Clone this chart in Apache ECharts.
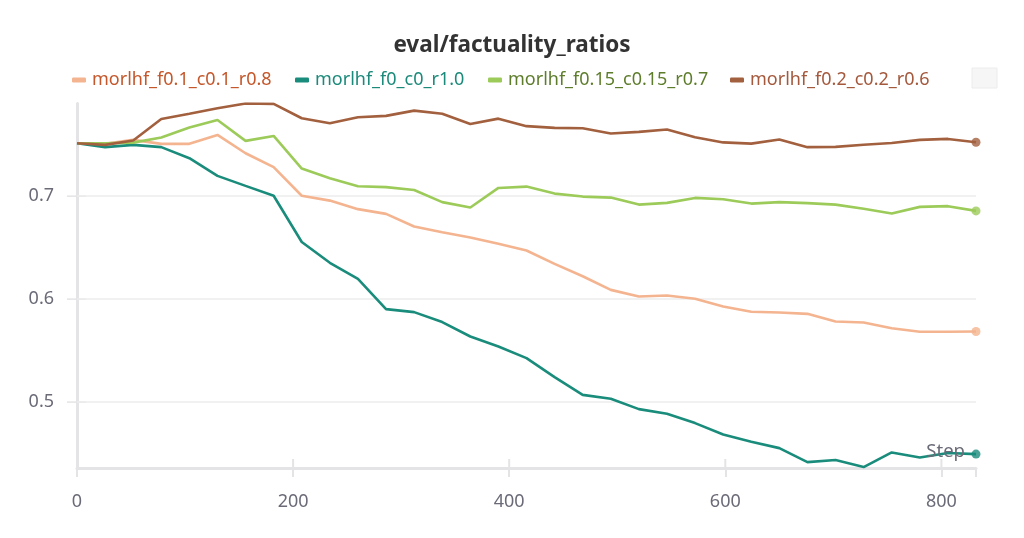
<!DOCTYPE html>
<html><head><meta charset="utf-8">
<script src="https://cdn.jsdelivr.net/npm/echarts@6/dist/echarts.min.js"></script>
<style>html,body{margin:0;padding:0;background:#fff}#c{width:1024px;height:538px}</style>
</head><body><div id="c"></div>
<script>
const steps = [0,26,52,78,104,130,156,182,208,234,260,286,312,338,364,390,416,442,468,494,520,546,572,598,624,650,676,702,728,754,780,806,832];
const seriesNames = ['morlhf_f0.1_c0.1_r0.8','morlhf_f0_c0_r1.0','morlhf_f0.15_c0.15_r0.7','morlhf_f0.2_c0.2_r0.6'];
const f01 = [0.7514,0.7508,0.7547,0.7508,0.7508,0.7595,0.7417,0.7282,0.7004,0.6957,0.6874,0.6828,0.6705,0.6650,0.6598,0.6537,0.6472,0.6343,0.6222,0.6090,0.6025,0.6035,0.6003,0.5928,0.5877,0.5870,0.5857,0.5783,0.5773,0.5718,0.5683,0.5683,0.5686];
const f0 = [0.7514,0.7476,0.7498,0.7476,0.7369,0.7197,0.7100,0.7004,0.6555,0.6353,0.6196,0.5903,0.5874,0.5777,0.5637,0.5540,0.5427,0.5243,0.5070,0.5032,0.4932,0.4887,0.4796,0.4686,0.4615,0.4553,0.4417,0.4437,0.4369,0.4511,0.4462,0.4505,0.4495];
const f015 = [0.7514,0.7514,0.7520,0.7570,0.7666,0.7740,0.7537,0.7585,0.7268,0.7175,0.7097,0.7088,0.7060,0.6942,0.6890,0.7080,0.7093,0.7025,0.6996,0.6986,0.6918,0.6935,0.6983,0.6970,0.6928,0.6942,0.6932,0.6918,0.6877,0.6831,0.6896,0.6903,0.6857];
const f02 = [0.7514,0.7498,0.7540,0.7750,0.7800,0.7854,0.7900,0.7896,0.7757,0.7709,0.7767,0.7780,0.7831,0.7800,0.7700,0.7753,0.7680,0.7663,0.7660,0.7608,0.7624,0.7647,0.7573,0.7522,0.7510,0.7550,0.7476,0.7479,0.7500,0.7517,0.7547,0.7556,0.7524];
const xTicks = [0,200,400,600,800];
const yTicks = [0.5,0.6,0.7];

const lineColors = ['#f4b48f','#1a8c7c','#9ccb5a','#a3603f'];
const textColors = ['#c4572b','#1b8a7a','#5e7d2c','#a4583c'];
const legendLeft = [67,290,483,725];
const allVals = [f01,f0,f015,f02];
const FONT = 'Noto Sans';
const GREY = '#6b6b78';

const chart = echarts.init(document.getElementById('c'), null, {renderer:'canvas'});
const series = [{
  type:'line', name:'gridlines', data:[], silent:true, z:1,
  markLine:{symbol:'none', silent:true, z:1, label:{show:false}, animation:false,
    lineStyle:{color:'#ececec',width:1.5,type:'solid'},
    data: yTicks.map(v=>({yAxis:v}))}
}];
allVals.forEach((vals,i)=>{
  series.push({
    name: seriesNames[i], type:'line', data: steps.map((s,k)=>[s,vals[k]]),
    showSymbol:false, lineStyle:{width:2.6,color:lineColors[i]}, itemStyle:{color:lineColors[i]},
    silent:true, z: 2+i
  });
});
allVals.forEach((vals,i)=>{
  series.push({
    name: seriesNames[i]+'_end', type:'scatter', data:[[steps[steps.length-1], vals[vals.length-1]]],
    symbol:'circle', symbolSize:9, itemStyle:{color:lineColors[i]}, silent:true, z:10
  });
});

chart.setOption({
  animation:false,
  title:{text:'eval/factuality_ratios', left:'center', top:29,
    textStyle:{fontFamily:FONT,fontSize:22.5,fontWeight:'bold',color:'#333'}},
  legend: seriesNames.map((n,i)=>({
    data:[{name:n, textStyle:{color:textColors[i]}}],
    top:66, left:legendLeft[i], itemWidth:14, itemHeight:5, icon:'roundRect',
    selectedMode:false,
    textStyle:{fontFamily:FONT,fontSize:18,padding:[0,0,0,1]}
  })),
  grid:{left:77,right:48,top:103.5,bottom:70,containLabel:false},
  xAxis:{type:'value', min:0, max:832, interval:200,
    axisLine:{show:true,lineStyle:{color:'#e4e4e6',width:3}},
    axisTick:{show:true,inside:false,length:9,lineStyle:{color:'#e4e4e6',width:2}},
    axisLabel:{fontFamily:FONT,fontSize:18,color:GREY,margin:25,
      formatter:v=> xTicks.includes(v)? String(v):''},
    splitLine:{show:false}},
  yAxis:{type:'value', min:0.436, max:0.79,
    axisLine:{show:true,lineStyle:{color:'#e4e4e6',width:3}},
    axisTick:{show:false},
    axisLabel:{show:false},
    splitLine:{show:false}},
  series: series
});

const g = [];
yTicks.forEach(v=>{
  const p = chart.convertToPixel({gridIndex:0},[0,v]);
  g.push({type:'text', x:54, y:p[1], style:{text:String(v), fontFamily:FONT, fontSize:18, fill:GREY, align:'right', verticalAlign:'middle'}, silent:true});
  g.push({type:'line', shape:{x1:67,y1:p[1],x2:86,y2:p[1]}, style:{stroke:'#e4e4e6',lineWidth:1.5}, silent:true});
});
xTicks.forEach(v=>{
  const p = chart.convertToPixel({gridIndex:0},[v,0.436]);
  g.push({type:'line', shape:{x1:p[0],y1:p[1]-9,x2:p[0],y2:p[1]}, style:{stroke:'#e4e4e6',lineWidth:2}, silent:true});
});
g.push({type:'text', x:965, y:452, style:{text:'Step', fontFamily:FONT, fontSize:18.5, fill:GREY, align:'right', verticalAlign:'middle'}, silent:true, z:20});
g.push({type:'rect', shape:{x:972,y:68,width:25,height:20}, style:{fill:'#f6f6f6',stroke:'#ececec',lineWidth:1}, silent:true});
chart.setOption({graphic:g});
</script></body></html>
